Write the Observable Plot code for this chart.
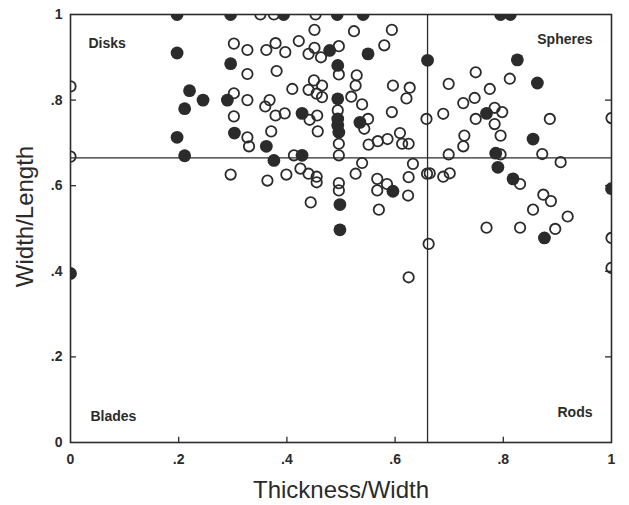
<!DOCTYPE html>
<html><head><meta charset="utf-8">
<script src="https://cdn.jsdelivr.net/npm/d3@7"></script>
<script src="https://cdn.jsdelivr.net/npm/@observablehq/plot@0.6"></script>
<style>body{margin:0;background:#fff}</style>
</head><body><div id="chart"></div><script>
// Open circles: Thickness/Width (x) and Width/Length (y)
const openX = [0,0,0.302,0.327,0.327,0.302,0.327,0.302,0.327,0.33,0.296,0.351,0.376,0.453,0.451,0.524,0.594,0.362,0.379,0.397,0.422,0.44,0.451,0.463,0.496,0.58,0.381,0.496,0.529,0.527,0.45,0.465,0.44,0.455,0.465,0.41,0.596,0.627,0.621,0.519,0.368,0.36,0.539,0.379,0.396,0.456,0.442,0.494,0.594,0.55,0.543,0.658,0.371,0.457,0.496,0.551,0.568,0.586,0.609,0.613,0.625,0.413,0.496,0.539,0.633,0.659,0.364,0.399,0.425,0.44,0.455,0.455,0.527,0.496,0.496,0.567,0.585,0.567,0.625,0.624,0.444,0.57,0.625,0.662,0.749,0.699,0.812,0.775,0.747,0.726,0.784,0.798,0.689,0.749,0.784,0.886,1,0.795,0.728,0.726,0.795,0.699,0.872,0.906,0.664,0.689,0.701,0.831,0.874,0.888,0.855,0.919,0.769,0.831,0.896,1,1];
const openY = [0.832,0.668,0.932,0.917,0.861,0.816,0.80,0.762,0.713,0.692,0.626,1,1,1,0.964,0.961,0.964,0.917,0.933,0.912,0.938,0.908,0.922,0.90,0.926,0.928,0.868,0.86,0.858,0.834,0.846,0.834,0.824,0.815,0.807,0.826,0.834,0.829,0.804,0.808,0.80,0.785,0.79,0.764,0.769,0.764,0.754,0.776,0.772,0.756,0.733,0.756,0.727,0.727,0.698,0.696,0.704,0.709,0.723,0.698,0.698,0.671,0.671,0.653,0.651,0.628,0.612,0.626,0.64,0.628,0.621,0.608,0.628,0.606,0.589,0.616,0.604,0.589,0.62,0.577,0.561,0.544,0.386,0.464,0.865,0.838,0.85,0.826,0.805,0.793,0.782,0.772,0.768,0.756,0.744,0.756,0.758,0.717,0.717,0.692,0.673,0.673,0.674,0.655,0.629,0.621,0.629,0.604,0.579,0.564,0.544,0.528,0.502,0.502,0.499,0.478,0.408];
// Filled circles
const filledX = [0.197,0.296,0.197,0.296,0.22,0.245,0.211,0.29,0.303,0.197,0.211,0,0.394,0.493,0.541,0.479,0.55,0.66,0.494,0.494,0.428,0.494,0.494,0.496,0.535,0.362,0.376,0.428,0.596,0.498,0.498,0.795,0.813,0.826,0.863,0.769,0.855,0.786,0.79,0.818,1,0.876];
const filledY = [1,1,0.91,0.885,0.822,0.80,0.78,0.80,0.723,0.713,0.67,0.395,1,1,1,0.916,0.908,0.893,0.881,0.803,0.769,0.756,0.741,0.725,0.748,0.692,0.659,0.671,0.587,0.556,0.497,1,1,0.894,0.84,0.769,0.709,0.676,0.643,0.616,0.593,0.478];
// Axis ticks and labels
const tickValues = [0, 0.2, 0.4, 0.6, 0.8, 1];
const tickLabels = ["0", ".2", ".4", ".6", ".8", "1"];
const dividerX = [0.66];
const dividerY = [0.665];
const quadrants = ["Disks", "Spheres", "Blades", "Rods"];
const xTitle = "Thickness/Width";
const yTitle = "Width/Length";

const openRows = openX.map((x, i) => ({x, y: openY[i]}));
const filledRows = filledX.map((x, i) => ({x, y: filledY[i]}));
const fmt = d => tickLabels[tickValues.indexOf(d)];
const ink = "#2b2b2b";

const chart = Plot.plot({
  width: 629, height: 505,
  marginLeft: 70, marginRight: 18, marginTop: 14, marginBottom: 63,
  style: {fontFamily: "'Liberation Sans', Arial, sans-serif", color: ink, background: "white", overflow: "visible"},
  x: {domain: [0, 1]},
  y: {domain: [0, 1]},
  marks: [
    Plot.ruleX(dividerX, {y1: 0, y2: 1, stroke: ink, strokeWidth: 1.3}),
    Plot.ruleY(dividerY, {x1: 0, x2: 1, stroke: ink, strokeWidth: 1.3}),
    Plot.dot(openRows, {x: "x", y: "y", r: 5.2, stroke: ink, strokeWidth: 1.8, fill: "none", clip: true}),
    Plot.dot(filledRows, {x: "x", y: "y", r: 6.4, fill: ink, stroke: "none", clip: true}),
    Plot.frame({stroke: ink, strokeWidth: 1.6}),
    Plot.ruleX(tickValues.slice(1, 5), {y1: 0, y2: 0.012, stroke: ink, strokeWidth: 1.3}),
    Plot.ruleY(tickValues.slice(1, 5), {x1: 0, x2: 0.011, stroke: ink, strokeWidth: 1.3}),
    Plot.ruleY(tickValues.slice(1, 5), {x1: 0.989, x2: 1, stroke: ink, strokeWidth: 1.3}),
    Plot.axisX(tickValues, {tickFormat: fmt, tickSize: 0, tickPadding: 12, fontSize: 14, fontWeight: "bold", label: null}),
    Plot.axisY(tickValues, {tickFormat: fmt, tickSize: 0, tickPadding: 8, fontSize: 14, fontWeight: "bold", label: null}),
    Plot.text([xTitle], {frameAnchor: "bottom", dy: 55, fontSize: 24, fill: ink}),
    Plot.text([yTitle], {frameAnchor: "left", textAnchor: "middle", dx: -45, dy: -12, rotate: -90, fontSize: 24, fill: ink}),
    Plot.text([quadrants[0]], {frameAnchor: "top-left", dx: 18, dy: 24, textAnchor: "start", fontSize: 14, fontWeight: "bold", fill: ink}),
    Plot.text([quadrants[1]], {frameAnchor: "top-right", dx: -19, dy: 20, textAnchor: "end", fontSize: 14, fontWeight: "bold", fill: ink}),
    Plot.text([quadrants[2]], {frameAnchor: "bottom-left", dx: 20, dy: -22, textAnchor: "start", fontSize: 14, fontWeight: "bold", fill: ink}),
    Plot.text([quadrants[3]], {frameAnchor: "bottom-right", dx: -19, dy: -26, textAnchor: "end", fontSize: 14, fontWeight: "bold", fill: ink})
  ]
});
document.getElementById("chart").appendChild(chart);
</script></body></html>
